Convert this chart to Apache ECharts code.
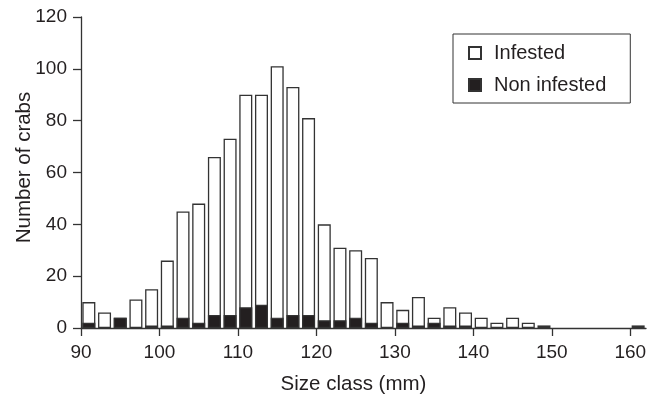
<!DOCTYPE html>
<html>
<head>
<meta charset="utf-8">
<script src="https://cdn.jsdelivr.net/npm/echarts@6/dist/echarts.min.js"></script>
<style>
html,body{margin:0;padding:0;background:#fff;}
#chart{width:662px;height:397px;}
</style>
</head>
<body>
<div id="chart"></div>
<script>
// Size class bins (lower edge, mm); each bin is 2 mm wide
var sizeClasses = [90,92,94,96,98,100,102,104,106,108,110,112,114,116,118,120,122,124,126,128,130,132,134,136,138,140,142,144,146,148,150,152,154,156,158,160];
// Total crabs per bin (outer bar height)
var totalCrabs = [10,6,4,11,15,26,45,48,66,73,90,90,101,93,81,40,31,30,27,10,7,12,4,8,6,4,2,4,2,1,0,0,0,0,0,1];
// Non infested crabs per bin (black part at the bottom)
var nonInfested = [2,0,4,0,1,1,4,2,5,5,8,9,4,5,5,3,3,4,2,0,2,1,2,1,1,0,0,0,0,0,0,0,0,0,0,0];
var binWidth = 2;
var xTicks = [90,100,110,120,130,140,150,160];
var yTicks = [0,20,40,60,80,100,120];

var font = '"Liberation Sans", Arial, Helvetica, sans-serif';
var ink = '#231f20';

function toData(vals){
  return sizeClasses.map(function(x, i){
    return [x + binWidth/2, vals[i] === 0 ? null : vals[i]];
  });
}

var chart = echarts.init(document.getElementById('chart'), null, {renderer:'canvas'});
chart.setOption({
  animation: false,
  backgroundColor: '#fff',
  grid: {left: 81, right: 16, top: 17, bottom: 69, containLabel: false, outerBoundsMode: 'none'},
  legend: {
    orient: 'vertical',
    left: 453, top: 34,
    data: ['Infested', 'Non infested'],
    borderColor: '#333', borderWidth: 1,
    padding: [9, 24, 8, 15],
    itemGap: 12,
    itemWidth: 12, itemHeight: 12,
    icon: 'rect',
    textStyle: {fontFamily: font, fontSize: 20, color: ink, padding: [0,0,0,8]}
  },
  xAxis: {
    type: 'value', min: 90, max: 162,
    name: 'Size class (mm)', nameLocation: 'middle', nameGap: 46, nameMoveOverlap: false,
    nameTextStyle: {fontFamily: font, fontSize: 20.5, color: ink, padding: [0, 20, 0, 0]},
    axisLine: {show: true, onZero: false, lineStyle: {color: '#333', width: 1.3}},
    axisTick: {show: true, length: 8, customValues: xTicks, lineStyle: {color: '#333', width: 1.3}},
    axisLabel: {customValues: xTicks, margin: 15, fontFamily: font, fontSize: 19, color: ink},
    splitLine: {show: false}
  },
  yAxis: {
    type: 'value', min: yTicks[0], max: yTicks[yTicks.length-1], interval: 20,
    name: 'Number of crabs', nameLocation: 'middle', nameGap: 46, nameRotate: 90, nameMoveOverlap: false,
    nameTextStyle: {fontFamily: font, fontSize: 20.5, color: ink, padding: [0, 0, 0, 10]},
    axisLine: {show: true, lineStyle: {color: '#333', width: 1.3}},
    axisTick: {show: true, length: 8, lineStyle: {color: '#333', width: 1.3}},
    axisLabel: {margin: 14, fontFamily: font, fontSize: 19, color: ink},
    splitLine: {show: false}
  },
  series: [
    {
      name: 'Infested', type: 'bar', barWidth: 13, barGap: '-100%',
      itemStyle: {color: '#fff', borderColor: '#333', borderWidth: 1.3},
      data: toData(totalCrabs)
    },
    {
      name: 'Non infested', type: 'bar', barWidth: 13, barGap: '-100%',
      itemStyle: {color: ink, borderColor: '#333', borderWidth: 1.2},
      data: toData(nonInfested)
    }
  ]
});
</script>
</body>
</html>
